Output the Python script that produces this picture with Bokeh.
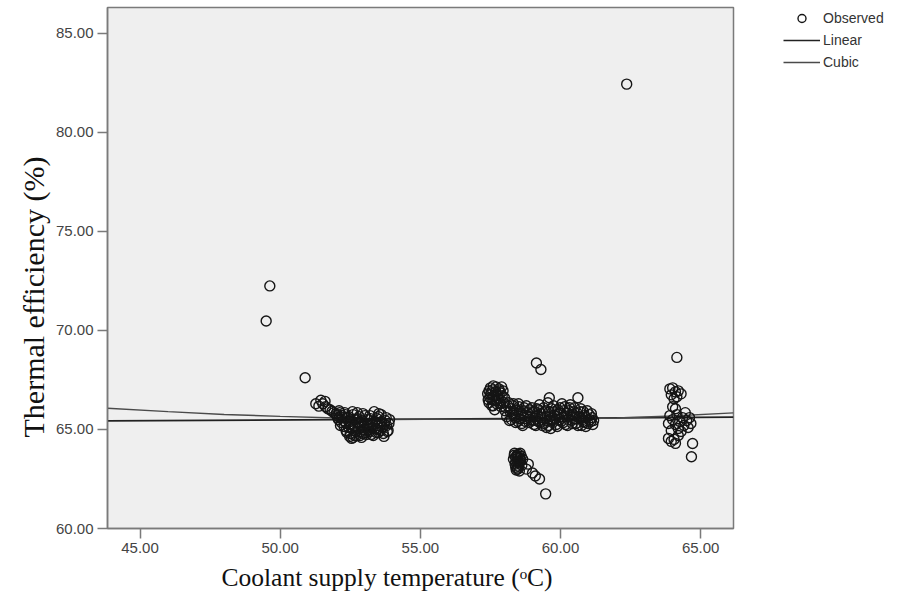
from bokeh.plotting import figure
from bokeh.layouts import row
from bokeh.models import (Legend, LegendItem, FixedTicker, PrintfTickFormatter,
                          ColumnDataSource, Title)
from bokeh.embed import file_html
from bokeh.resources import INLINE

# Observed coolant supply temperature (deg C) and thermal efficiency (%)
temp_low = [49.50, 49.63, 50.89]
eff_low = [70.48, 72.25, 67.61]

temp_c1 = [51.27, 51.45, 51.60, 51.38, 51.70, 51.85, 52.00, 52.10, 52.05, 52.20, 52.25, 52.30,
           52.35, 52.40, 52.45, 52.50, 52.50, 52.55, 52.60, 52.65, 52.70, 52.75, 52.80, 52.85,
           52.90, 52.95, 53.00, 53.05, 53.10, 53.15, 53.20, 53.25, 53.30, 53.35, 53.40, 53.45,
           53.50, 53.55, 53.60, 53.65, 53.70, 53.75, 53.85, 53.90, 52.60, 52.15, 52.35, 52.90,
           53.20, 52.75, 53.50, 52.45, 53.80,
           51.52, 51.62, 51.78, 51.92, 52.02, 52.08, 52.12, 52.18, 52.22, 52.28, 52.32, 52.38,
           52.42, 52.48, 52.52, 52.58, 52.62, 52.68, 52.72, 52.78, 52.82, 52.88, 52.92, 52.98,
           53.02, 53.08, 53.12, 53.18, 53.22, 53.28, 53.32, 53.38, 53.42, 53.48, 53.52, 53.58,
           53.62, 53.68, 53.72, 53.78, 53.82, 53.88, 52.55, 52.85, 53.15, 53.45, 52.65, 52.95]
eff_c1 = [66.30, 66.48, 66.42, 66.18, 66.05, 65.92, 65.80, 65.95, 65.60, 65.70, 65.45, 65.85,
          65.30, 65.60, 65.10, 64.80, 65.40, 64.55, 65.75, 65.20, 64.90, 65.55, 65.05, 64.70,
          65.35, 65.80, 65.15, 64.85, 65.50, 65.00, 65.70, 64.75, 65.25, 65.90, 65.05, 65.55,
          64.85, 65.35, 65.75, 65.10, 64.65, 65.45, 64.95, 65.50, 64.60, 65.20, 64.95, 64.60,
          65.30, 65.85, 65.65, 65.65, 65.20,
          66.30, 66.15, 66.00, 65.85, 65.70, 65.50, 65.85, 65.35, 65.60, 65.15, 65.75, 64.85,
          65.45, 64.65, 65.25, 65.90, 64.95, 65.50, 64.70, 65.30, 65.65, 64.90, 65.45, 65.00,
          65.70, 64.75, 65.30, 64.90, 65.55, 65.05, 64.70, 65.40, 64.85, 65.20, 65.80, 64.95,
          65.40, 64.80, 65.25, 65.60, 64.90, 65.30, 65.05, 65.20, 65.15, 65.00, 64.70, 64.80]

temp_c2 = [57.45, 57.50, 57.60, 57.70, 57.80, 57.90, 57.95, 57.50, 57.55, 57.45, 57.60, 57.70,
           57.75, 57.85, 57.65, 57.85, 58.00,
           57.48, 57.52, 57.58, 57.62, 57.68, 57.72, 57.78, 57.82, 57.88, 57.92, 57.98, 57.55,
           57.62, 57.88, 57.42, 57.40,
           58.05, 58.15, 58.20, 58.30, 58.35, 58.45, 58.50, 58.55, 58.60, 58.70, 58.75, 58.80,
           58.90, 58.95, 59.00, 59.05, 59.10, 59.15, 59.20, 59.30, 59.35, 59.40, 59.45, 59.55,
           59.60, 59.60, 59.65, 59.70, 59.75, 59.80, 59.85, 59.90, 59.95, 60.00, 60.10, 60.15,
           60.20, 60.25, 60.30, 60.40, 60.45, 60.50, 60.55, 60.62, 60.65, 60.70, 60.80, 60.85,
           60.90, 60.95, 61.05, 61.10, 61.15, 58.25, 58.65, 59.25, 60.05, 60.35, 58.40, 59.50,
           60.75,
           58.02, 58.08, 58.12, 58.18, 58.22, 58.28, 58.32, 58.38, 58.42, 58.48, 58.52, 58.58,
           58.62, 58.68, 58.72, 58.78, 58.82, 58.88, 58.92, 58.98, 59.02, 59.08, 59.12, 59.18,
           59.22, 59.28, 59.32, 59.38, 59.42, 59.48, 59.52, 59.58, 59.62, 59.68, 59.72, 59.78,
           59.82, 59.88, 59.92, 59.98, 60.02, 60.08, 60.12, 60.18, 60.22, 60.28, 60.32, 60.38,
           60.42, 60.48, 60.52, 60.58, 60.62, 60.68, 60.72, 60.78, 60.82, 60.88, 60.92, 60.98,
           61.02, 61.08, 61.12, 61.18,
           59.14, 59.30]
eff_c2 = [66.95, 67.10, 67.20, 67.15, 67.05, 67.15, 66.95, 66.75, 66.55, 66.35, 66.20, 66.45,
          66.70, 66.30, 66.00, 66.85, 66.60,
          66.60, 66.85, 67.00, 66.70, 66.90, 66.30, 66.55, 66.95, 66.45, 66.70, 66.35, 66.20,
          66.45, 66.15, 66.50, 66.80,
          66.10, 66.35, 65.90, 66.20, 65.70, 66.00, 66.30, 65.55, 65.85, 66.10, 65.40, 65.70,
          66.00, 65.50, 65.85, 65.25, 65.65, 66.05, 65.40, 65.80, 65.20, 66.10, 65.55, 66.35,
          66.60, 65.90, 65.05, 65.45, 66.20, 65.70, 65.25, 66.00, 65.50, 65.80, 65.35, 66.15,
          65.65, 65.20, 65.95, 65.45, 65.75, 66.10, 65.30, 66.60, 65.60, 65.90, 65.40, 65.70,
          65.15, 65.95, 65.50, 65.80, 65.25, 65.50, 65.20, 66.25, 66.30, 66.25, 65.35, 65.10,
          65.20,
          65.95, 65.65, 66.20, 65.45, 66.05, 65.80, 66.30, 65.60, 65.95, 65.40, 66.15, 65.75,
          65.30, 65.95, 65.55, 66.20, 65.85, 65.35, 65.65, 66.10, 65.45, 65.90, 65.20, 65.70,
          66.00, 65.35, 65.60, 65.85, 65.30, 65.95, 65.45, 65.20, 65.65, 66.05, 65.35, 65.90,
          65.55, 65.15, 65.75, 66.10, 65.40, 65.65, 65.95, 65.25, 65.80, 65.50, 66.10, 65.70,
          65.30, 65.90, 65.55, 65.85, 65.20, 65.65, 66.05, 65.50, 65.90, 65.35, 65.60, 65.30,
          65.75, 65.40, 65.60, 65.45,
          68.36, 68.03]

temp_c3 = [58.35, 58.40, 58.50, 58.55, 58.45, 58.60, 58.38, 58.50, 58.42, 58.55, 58.65, 58.45,
           58.32, 58.36, 58.40, 58.44, 58.48, 58.52, 58.56, 58.58, 58.62, 58.48, 58.40, 58.53,
           58.46, 58.85, 58.78, 59.00, 59.10, 59.25, 59.47]
eff_c3 = [63.70, 63.60, 63.75, 63.55, 63.40, 63.65, 63.25, 63.15, 62.95, 63.35, 63.50, 63.05,
          63.50, 63.80, 63.35, 63.70, 63.55, 63.30, 63.80, 63.45, 63.20, 63.00, 63.10, 62.90,
          63.65, 63.25, 63.00, 62.80, 62.65, 62.50, 61.75]

temp_c4 = [63.90, 64.00, 64.10, 64.20, 63.95, 64.15, 64.30, 64.05, 64.00, 64.10, 63.90, 64.00,
           64.15, 64.25, 64.35, 64.40, 64.45, 64.50, 64.55, 64.60, 64.65, 64.20, 64.30, 64.10,
           63.85, 63.95, 63.85, 63.95, 64.05, 64.10, 64.20, 64.71, 64.67, 64.15]
eff_c4 = [67.05, 67.10, 66.90, 66.95, 66.75, 66.65, 66.80, 66.55, 66.15, 66.05, 65.70, 65.50,
          65.75, 65.40, 65.60, 65.20, 65.85, 65.45, 65.10, 65.60, 65.30, 65.05, 64.90, 65.25,
          65.30, 64.95, 64.55, 64.40, 64.50, 64.30, 64.70, 64.29, 63.62, 68.64]

temp_high = [62.36]
eff_high = [82.44]

# Fitted curves
linear_x = [43.84, 66.17]
linear_y = [65.43, 65.62]
cubic_x = [43.84, 46.0, 48.0, 50.0, 52.0, 54.0, 56.0, 58.0, 60.0, 62.0, 64.0, 66.17]
cubic_y = [66.07, 65.90, 65.76, 65.66, 65.58, 65.53, 65.51, 65.51, 65.53, 65.58, 65.68, 65.84]

x_ticks = [45, 50, 55, 60, 65]
y_ticks = [60, 65, 70, 75, 80, 85]

temps = temp_low + temp_c1 + temp_c2 + temp_c3 + temp_c4 + temp_high
effs = eff_low + eff_c1 + eff_c2 + eff_c3 + eff_c4 + eff_high

obs_src = ColumnDataSource(dict(t=temps, e=effs))
lin_src = ColumnDataSource(dict(t=linear_x, e=linear_y))
cub_src = ColumnDataSource(dict(t=cubic_x, e=cubic_y))

MARKER = dict(marker="circle", size=10, fill_alpha=0, line_color="#151515", line_width=1.4)
LINEAR = dict(line_color="#222222", line_width=1.7)
CUBIC = dict(line_color="#4a4a4a", line_width=1.4)

p = figure(width=782, height=605, x_range=(43.84, 66.17), y_range=(60, 86.31),
           output_backend="svg", toolbar_location=None,
           min_border_left=107, min_border_right=49, min_border_top=7, min_border_bottom=77)

p.background_fill_color = "#efefef"
p.border_fill_color = "white"
p.outline_line_color = "#7a7a7a"
p.outline_line_width = 1.5
p.xgrid.visible = False
p.ygrid.visible = False

p.line("t", "e", source=lin_src, **LINEAR)
p.line("t", "e", source=cub_src, **CUBIC)
p.scatter(x="t", y="e", source=obs_src, **MARKER)

for ax, ticks in ((p.xaxis, x_ticks), (p.yaxis, y_ticks)):
    ax.ticker = FixedTicker(ticks=ticks)
    ax.formatter = PrintfTickFormatter(format="%.2f")
    ax.major_tick_out = 10
    ax.major_tick_in = 0
    ax.minor_tick_line_color = None
    ax.axis_line_color = "#7a7a7a"
    ax.axis_line_width = 1.5
    ax.major_tick_line_color = "#7a7a7a"
    ax.major_tick_line_width = 1.5
    ax.major_label_text_font = "Liberation Sans"
    ax.major_label_text_font_size = "15px"
    ax.major_label_text_color = "#444444"
    ax.major_label_standoff = 4

# Axis titles, offset along their axes
x_title = Title(text="Coolant supply temperature (\u1d52C)", align="left", offset=114,
                text_font="Liberation Serif", text_font_style="normal",
                text_font_size="25.5px", text_color="#111111", standoff=11)
y_title = Title(text="Thermal efficiency (%)", align="left", offset=91,
                text_font="Liberation Serif", text_font_style="normal",
                text_font_size="30px", text_color="#111111", standoff=6)
p.add_layout(x_title, "below")
p.add_layout(y_title, "left")

# Key panel to the right of the plot; its ranges keep the series themselves out of view
k = figure(width=115, height=605, x_range=(0, 1), y_range=(0, 1),
           x_axis_type=None, y_axis_type=None, output_backend="svg", toolbar_location=None,
           min_border=0)
k.outline_line_color = None
k.background_fill_color = "white"
k.border_fill_color = "white"
k.xgrid.visible = False
k.ygrid.visible = False
k_obs = k.scatter(x="t", y="e", source=obs_src, **MARKER)
k_lin = k.line("t", "e", source=lin_src, **LINEAR)
k_cub = k.line("t", "e", source=cub_src, **CUBIC)

legend = Legend(items=[LegendItem(label="Observed", renderers=[k_obs]),
                       LegendItem(label="Linear", renderers=[k_lin]),
                       LegendItem(label="Cubic", renderers=[k_cub])],
                location="top_left", padding=0, spacing=2, margin=1,
                glyph_width=37, glyph_height=20, label_standoff=3,
                label_text_font="Liberation Sans", label_text_font_size="14px",
                label_text_color="#333333", border_line_alpha=0, background_fill_alpha=0)
k.add_layout(legend)

layout = row(p, k, spacing=0)
open("out.html", "w").write(file_html(layout, INLINE))
